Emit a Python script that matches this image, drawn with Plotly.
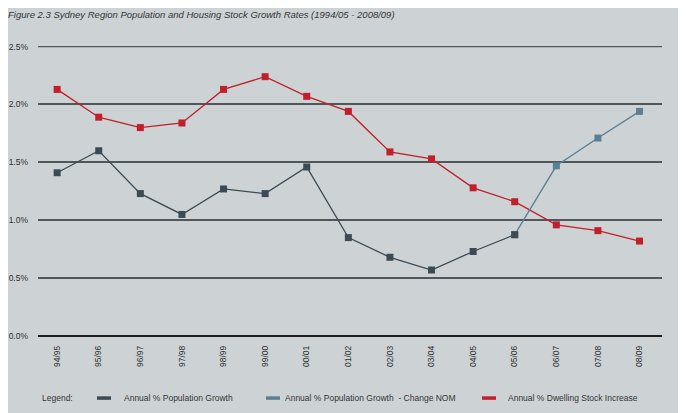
import plotly.graph_objects as go

years = ["94/95", "95/96", "96/97", "97/98", "98/99", "99/00", "00/01", "01/02",
         "02/03", "03/04", "04/05", "05/06", "06/07", "07/08", "08/09"]

pop_growth = [1.41, 1.60, 1.23, 1.05, 1.27, 1.23, 1.46, 0.85, 0.68, 0.57, 0.73, 0.875]
nom_years = ["05/06", "06/07", "07/08", "08/09"]
nom_growth = [0.875, 1.47, 1.71, 1.94]
dwelling = [2.13, 1.89, 1.80, 1.84, 2.13, 2.24, 2.07, 1.94, 1.59, 1.53, 1.28, 1.16, 0.96, 0.91, 0.82]

y_ticks = [0, 0.5, 1.0, 1.5, 2.0, 2.5]
y_labels = ["0.0%", "0.5%", "1.0%", "1.5%", "2.0%", "2.5%"]

legend_names = ["Annual % Population Growth",
                "Annual % Population Growth  - Change NOM",
                "Annual % Dwelling Stock Increase"]

dark = "#3c4a53"
blue = "#5b7f93"
red = "#c01f2b"
bg = "#cdd3d5"
grid = "#50575a"
font = "Liberation Sans, Arial, sans-serif"

fig = go.Figure()
fig.add_trace(go.Scatter(x=years, y=dwelling, mode="lines+markers",
                         line=dict(color=red, width=1.3),
                         marker=dict(symbol="square", size=7, color=red)))
fig.add_trace(go.Scatter(x=nom_years, y=nom_growth, mode="lines+markers",
                         line=dict(color=blue, width=1.3),
                         marker=dict(symbol="square", size=7, color=blue)))
fig.add_trace(go.Scatter(x=years[:len(pop_growth)], y=pop_growth, mode="lines+markers",
                         line=dict(color=dark, width=1.3),
                         marker=dict(symbol="square", size=7, color=dark)))

# page body adds 8px, so margins are offset by that
fig.update_layout(
    width=686, height=413,
    paper_bgcolor=bg, plot_bgcolor=bg,
    margin=dict(l=30, r=32, t=38, b=85),
    showlegend=False,
    font=dict(family=font, size=8.5, color="#333333"),
    xaxis=dict(categoryorder="array", categoryarray=years, automargin=False,
               range=[-0.46, 14.54], showgrid=False, zeroline=False,
               tickangle=-90, ticks="", ticklabelstandoff=7,
               tickfont=dict(size=8.5, color="#2e2e2e")),
    yaxis=dict(range=[0, 2.505], tickvals=y_ticks, ticktext=y_labels, automargin=False,
               showgrid=True, gridcolor=grid, gridwidth=1.5,
               zeroline=True, zerolinecolor="#1e1e1e", zerolinewidth=1.5,
               ticks="", ticklabelstandoff=9,
               tickfont=dict(size=8.5, color="#2e2e2e")),
    title=dict(text="<i>Figure 2.3 Sydney Region Population and Housing Stock Growth Rates (1994/05 - 2008/09)</i>",
               x=0, xanchor="left", y=0.993, yanchor="top",
               font=dict(size=9.5, color="#333333", family=font)),
)

# top gridline sits on the edge of the range, draw it explicitly
fig.add_shape(type="line", xref="paper", yref="y", x0=0, x1=1, y0=2.5, y1=2.5,
              line=dict(color=grid, width=1.5), layer="below")

# legend row drawn along the bottom
ly = -0.214
fig.add_annotation(text="Legend:", xref="paper", yref="paper", x=0.003, xanchor="left",
                   y=ly, yanchor="middle", showarrow=False, font=dict(size=8.5))
swatch_x = [97, 266, 482]
text_x = [122, 283, 506]
colors = [dark, blue, red]
for sx, tx, c, name in zip(swatch_x, text_x, colors, legend_names):
    fig.add_shape(type="line", xref="paper", yref="paper",
                  x0=(sx - 38) / 624, x1=(sx + 14 - 38) / 624, y0=ly, y1=ly,
                  line=dict(color=c, width=3.5))
    fig.add_annotation(text=name, xref="paper", yref="paper", x=(tx - 38) / 624, xanchor="left",
                       y=ly, yanchor="middle", showarrow=False, font=dict(size=8.5))

fig.write_html("out.html")
